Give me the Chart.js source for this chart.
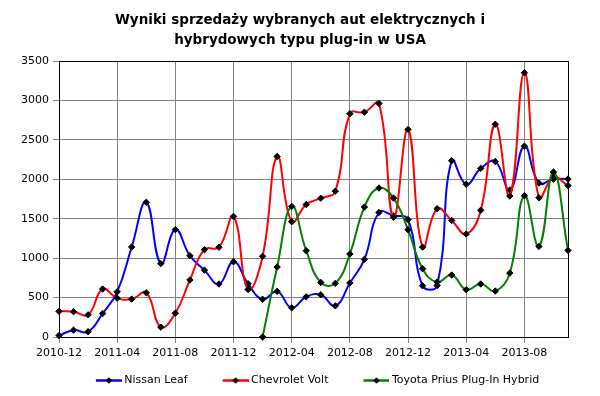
<!DOCTYPE html>
<html><head><meta charset="utf-8">
<script src="https://cdn.jsdelivr.net/npm/chart.js@4"></script>
<style>html,body{margin:0;padding:0;background:#fff}</style>
</head><body>
<canvas id="c" width="600" height="396" style="width:600px;height:396px;display:block"></canvas>
<script>
const months = ['2010-12','2011-01','2011-02','2011-03','2011-04','2011-05','2011-06','2011-07','2011-08','2011-09','2011-10','2011-11',
  '2011-12','2012-01','2012-02','2012-03','2012-04','2012-05','2012-06','2012-07','2012-08','2012-09','2012-10','2012-11',
  '2012-12','2013-01','2013-02','2013-03','2013-04','2013-05','2013-06','2013-07','2013-08','2013-09','2013-10','2013-11'];
const nissanLeaf = [19, 87, 67, 298, 573, 1142, 1708, 931, 1362, 1031, 848, 672,
  954, 676, 478, 579, 370, 510, 535, 395, 685, 984, 1579, 1539,
  1489, 650, 653, 2236, 1937, 2138, 2225, 1864, 2420, 1953, 2002, 2003];
const chevroletVolt = [326, 321, 281, 608, 493, 481, 561, 125, 302, 723, 1108, 1139,
  1529, 603, 1023, 2289, 1462, 1680, 1760, 1849, 2831, 2851, 2961, 1519,
  2633, 1140, 1626, 1478, 1306, 1607, 2698, 1788, 3351, 1766, 2022, 1920];
const toyotaPriusPlugIn = [null, null, null, null, null, null, null, null, null, null, null, null,
  null, null, 0, 888, 1656, 1094, 692, 680, 1052, 1648, 1889, 1762,
  1361, 866, 697, 786, 600, 672, 583, 811, 1792, 1149, 2092, 1098];
const seriesNames = ['Nissan Leaf', 'Chevrolet Volt', 'Toyota Prius Plug-In Hybrid'];
const seriesColors = ['#0000ff', '#ff0000', '#008000'];
const titleLines = ['Wyniki sprzedaży wybranych aut elektrycznych i', 'hybrydowych typu plug-in w USA'];
const yMin = 0, yMax = 3500, yStep = 500;
const labelEvery = 4;

// legend symbol: a short coloured line with a black marker, right-aligned in a wider transparent canvas
function legendIcon(color) {
  const c = document.createElement('canvas');
  c.width = 64; c.height = 9;
  const g = c.getContext('2d');
  g.strokeStyle = color; g.lineWidth = 2.5;
  g.beginPath(); g.moveTo(38, 4.5); g.lineTo(64, 4.5); g.stroke();
  g.fillStyle = '#000';
  g.beginPath(); g.moveTo(51, 1.3); g.lineTo(54.2, 4.5); g.lineTo(51, 7.7); g.lineTo(47.8, 4.5); g.closePath(); g.fill();
  return c;
}
const icons = seriesColors.map(legendIcon);

Chart.defaults.font.family = "'DejaVu Sans', Verdana, sans-serif";
Chart.defaults.font.size = 11;
Chart.defaults.color = '#000';

const gridGray = '#808080';
const seriesData = [nissanLeaf, chevroletVolt, toyotaPriusPlugIn];

new Chart(document.getElementById('c'), {
  type: 'line',
  data: {
    labels: months,
    datasets: seriesData.map((d, i) => ({
      label: seriesNames[i],
      data: d,
      borderColor: seriesColors[i],
      backgroundColor: seriesColors[i],
      borderWidth: 2,
      tension: 0.45,
      fill: false,
      pointStyle: 'rectRot',
      pointRadius: 3.2,
      pointBackgroundColor: '#000',
      pointBorderColor: '#000',
      pointBorderWidth: 1,
      clip: 8,
      order: 3 - i
    }))
  },
  options: {
    responsive: false,
    animation: false,
    devicePixelRatio: 1,
    layout: { padding: 0 },
    scales: {
      x: {
        type: 'category',
        offset: false,
        grid: {
          color: c => (c.index % labelEvery === 0 ? gridGray : 'rgba(0,0,0,0)'),
          tickColor: c => (c.index % labelEvery === 0 ? gridGray : 'rgba(0,0,0,0)'),
          tickLength: 6,
          lineWidth: 1
        },
        border: { display: true, color: '#000', width: 1 },
        ticks: {
          autoSkip: false, maxRotation: 0, minRotation: 0, padding: 4,
          callback: function (v, i) { return i % labelEvery === 0 ? this.getLabelForValue(v) : ''; }
        },
        afterFit: s => { s.height = 38; }
      },
      x2: {
        type: 'linear', position: 'top', min: 0, max: 1,
        grid: { display: false, drawTicks: false },
        ticks: { display: false },
        border: { display: true, color: '#000', width: 1 },
        afterFit: s => { s.height = 0; }
      },
      y: {
        min: yMin, max: yMax,
        ticks: { stepSize: yStep, padding: 4, callback: v => String(v) },
        grid: { color: gridGray, tickColor: gridGray, tickLength: 6, lineWidth: 1 },
        border: { display: true, color: '#000', width: 1 },
        afterFit: s => { s.width = 59; }
      },
      y2: {
        position: 'right', min: yMin, max: yMax,
        grid: { display: false, drawTicks: false },
        ticks: { display: false },
        border: { display: true, color: '#000', width: 1 },
        afterFit: s => { s.width = 32; }
      }
    },
    plugins: {
      title: {
        display: true,
        text: titleLines,
        color: '#000',
        font: { size: 13.5, weight: 'bold', lineHeight: '20px' },
        padding: { top: 10, bottom: 11 }
      },
      legend: {
        display: true,
        position: 'bottom',
        fullSize: true,
        labels: {
          usePointStyle: true,
          pointStyleWidth: 58,
          padding: 0,
          color: '#000',
          font: { size: 11 },
          generateLabels: chart => chart.data.datasets.map((ds, i) => ({
            text: ds.label, pointStyle: icons[i], fillStyle: ds.borderColor,
            strokeStyle: ds.borderColor, lineWidth: 0, hidden: false, datasetIndex: i, fontColor: '#000'
          }))
        }
      },
      tooltip: { enabled: false }
    }
  }
});
</script>
</body></html>
